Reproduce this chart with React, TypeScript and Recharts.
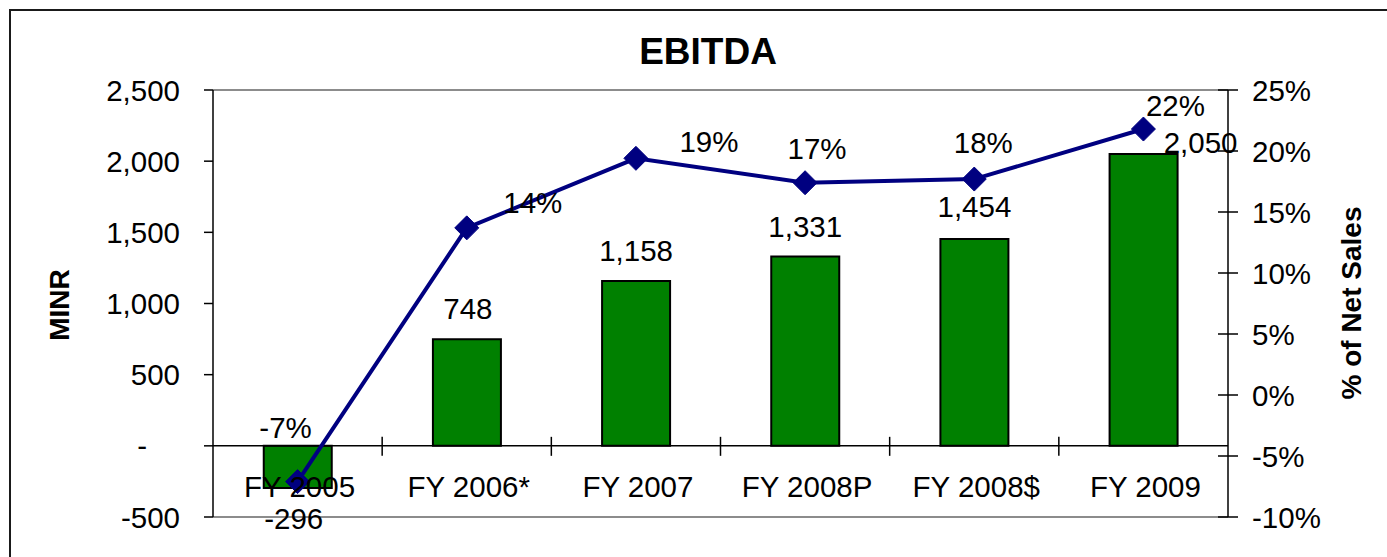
import React from 'react';
import { ComposedChart, Bar, Line, XAxis, YAxis, ReferenceLine, LabelList } from 'recharts';

const categories = ['FY 2005', 'FY 2006*', 'FY 2007', 'FY 2008P', 'FY 2008$', 'FY 2009'];
const ebitda = [-296, 748, 1158, 1331, 1454, 2050];
const pctNetSales = [-7.1, 13.7, 19.4, 17.4, 17.7, 21.8];
const leftTicks = [-500, 0, 500, 1000, 1500, 2000, 2500];
const rightTicks = [-10, -5, 0, 5, 10, 15, 20, 25];

// label nudges (dx, dy) relative to the library-computed anchor
const barLabelNudges = [[-4, 31], [1, -31], [0, -31], [0, -30], [0, -32], [57, -12]];
const pctLabelNudges = [[-12, -54], [66, -25], [73, -17], [12, -34], [9, -37], [32, -24]];

const data = categories.map((c, i) => ({ name: c, ebitda: ebitda[i], pct: pctNetSales[i] }));

const FONT = '"Liberation Sans", Arial, Helvetica, sans-serif';
const FS = 29.5;

const fmtNum = (v: number) => (v === 0 ? '-' : v.toLocaleString('en-US'));

const LeftTick = (props: any) => {
  const { x, y, payload } = props;
  const v = payload.value;
  return (
    <g>
      <line x1={x - 9} x2={x} y1={y} y2={y} stroke="#000" strokeWidth={1.5} />
      <text x={v === 0 ? x - 66 : x - 33} y={y} textAnchor="end" dominantBaseline="central" fontFamily={FONT} fontSize={FS} fill="#000">
        {fmtNum(v)}
      </text>
    </g>
  );
};

const RightTick = (props: any) => {
  const { x, y, payload } = props;
  return (
    <g>
      <line x1={x - 10} x2={x + 10} y1={y} y2={y} stroke="#000" strokeWidth={1.5} />
      <text x={x + 24} y={y} textAnchor="start" dominantBaseline="central" fontFamily={FONT} fontSize={FS} fill="#000">
        {`${payload.value}%`}
      </text>
    </g>
  );
};

const CatTick = (props: any) => {
  const { x, y, payload } = props;
  return (
    <text x={x + 2} y={y - 31} textAnchor="middle" dominantBaseline="central" fontFamily={FONT} fontSize={FS} fill="#000">
      {payload.value}
    </text>
  );
};

const ZeroAxis = (props: any) => {
  const { x1, x2, y1 } = props;
  const n = categories.length;
  const step = (x2 - x1) / n;
  const marks = [];
  for (let i = 1; i < n; i++) {
    const xx = x1 + step * i;
    marks.push(<line key={i} x1={xx} x2={xx} y1={y1 - 9} y2={y1 + 10} stroke="#000" strokeWidth={1.5} />);
  }
  return (
    <g>
      <line x1={x1} x2={x2} y1={y1} y2={y1} stroke="#000" strokeWidth={1.5} />
      {marks}
    </g>
  );
};

const Diamond = (props: any) => {
  const { cx, cy } = props;
  if (cx == null || cy == null) return null;
  const r = 12;
  return <polygon points={`${cx},${cy - r} ${cx + r},${cy} ${cx},${cy + r} ${cx - r},${cy}`} fill="#000080" stroke="#000080" />;
};

const getBox = (props: any) => {
  const vb = props.viewBox || {};
  return {
    x: vb.x ?? props.x,
    y: vb.y ?? props.y,
    width: vb.width ?? props.width ?? 0,
    height: vb.height ?? props.height ?? 0,
  };
};

const BarLabel = (props: any) => {
  const { value, index } = props;
  const b = getBox(props);
  const top = Math.min(b.y, b.y + b.height);
  const bottom = Math.max(b.y, b.y + b.height);
  const end = value >= 0 ? top : bottom;
  const [dx, dy] = barLabelNudges[index] || [0, 0];
  return (
    <text x={b.x + b.width / 2 + dx} y={end + dy} textAnchor="middle" dominantBaseline="central" fontFamily={FONT} fontSize={FS} fill="#000">
      {fmtNum(value)}
    </text>
  );
};

const PctLabel = (props: any) => {
  const { value, index } = props;
  const b = getBox(props);
  const [dx, dy] = pctLabelNudges[index] || [0, 0];
  return (
    <text x={b.x + dx} y={b.y + dy} textAnchor="middle" dominantBaseline="central" fontFamily={FONT} fontSize={FS} fill="#000">
      {`${Math.round(value)}%`}
    </text>
  );
};

export default function App() {
  return (
    <div style={{ position: 'absolute', left: 0, top: 0, width: 1387, height: 557, overflow: 'hidden', background: '#fff' }}>
      <div style={{ position: 'absolute', left: 9, top: 9, width: 1450, height: 650, borderTop: '2px solid #1a1a1a', borderLeft: '2px solid #1a1a1a' }} />
      <div style={{ position: 'absolute', left: 0, top: 0 }}>
        <ComposedChart width={1387} height={557} data={data} margin={{ top: 90, right: 59, bottom: 0, left: 100 }} barCategoryGap="30%">
          <ReferenceLine yAxisId="left" y={2500} stroke="#8c8c8c" strokeWidth={2} />
          <ReferenceLine yAxisId="left" y={-500} stroke="#8c8c8c" strokeWidth={2} />
          <YAxis
            yAxisId="left"
            width={113}
            domain={[-500, 2500]}
            ticks={leftTicks}
            interval={0}
            tickSize={0}
            tickMargin={0}
            tickLine={false}
            axisLine={{ stroke: '#000', strokeWidth: 1.5 }}
            tick={<LeftTick />}
          />
          <YAxis
            yAxisId="right"
            orientation="right"
            width={100}
            domain={[-10, 25]}
            ticks={rightTicks}
            interval={0}
            tickSize={0}
            tickMargin={0}
            tickLine={false}
            axisLine={{ stroke: '#000', strokeWidth: 1.5 }}
            tick={<RightTick />}
          />
          <Bar yAxisId="left" dataKey="ebitda" fill="#008000" stroke="#000" strokeWidth={2} isAnimationActive={false}>
            <LabelList dataKey="ebitda" content={<BarLabel />} />
          </Bar>
          <ReferenceLine yAxisId="left" y={0} stroke="#000" shape={<ZeroAxis />} />
          <XAxis
            dataKey="name"
            height={40}
            interval={0}
            tickSize={0}
            tickMargin={0}
            axisLine={false}
            tickLine={false}
            tick={<CatTick />}
          />
          <Line
            yAxisId="right"
            dataKey="pct"
            type="linear"
            stroke="#000080"
            strokeWidth={4}
            dot={<Diamond />}
            activeDot={false}
            isAnimationActive={false}
          >
            <LabelList dataKey="pct" content={<PctLabel />} />
          </Line>
        </ComposedChart>
      </div>
      <svg width={1387} height={557} style={{ position: 'absolute', left: 0, top: 0, pointerEvents: 'none' }}>
        <text x={708} y={51} textAnchor="middle" dominantBaseline="central" fontFamily={FONT} fontSize={37} fontWeight="bold" fill="#000">
          EBITDA
        </text>
        <text x={59} y={305} transform="rotate(-90 59 305)" textAnchor="middle" dominantBaseline="central" fontFamily={FONT} fontSize={28} fontWeight="bold" fill="#000">
          MINR
        </text>
        <text x={1351} y={303} transform="rotate(-90 1351 303)" textAnchor="middle" dominantBaseline="central" fontFamily={FONT} fontSize={28} fontWeight="bold" fill="#000">
          % of Net Sales
        </text>
      </svg>
    </div>
  );
}
